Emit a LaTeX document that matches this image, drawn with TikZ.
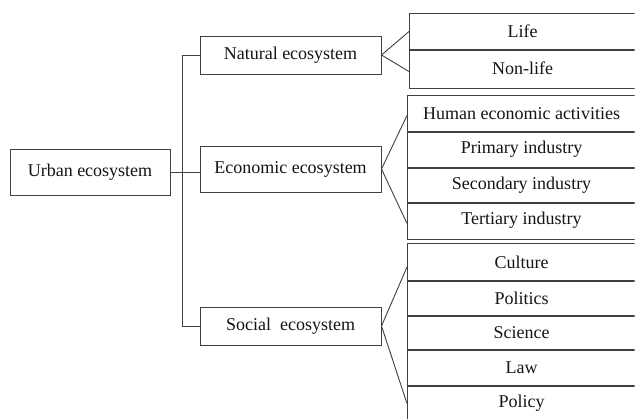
\documentclass[tikz,border=0pt]{standalone}
\usepackage{fontspec}
\setmainfont{Liberation Serif}
\begin{document}
\begin{tikzpicture}[x=1pt,y=-1pt, line width=1pt,
  txt/.style={font=\fontsize{18}{21}\selectfont, text=black!92},
  mainbox/.style={txt, draw=black!75, inner sep=0pt},
  rowbox/.style={txt, inner sep=0pt, anchor=north west, minimum width=229pt},
  rowframe/.style={draw=black!75, line width=1pt},
  link/.style={draw=black!75, line width=0.9pt}]
\useasboundingbox (0,0) rectangle (635,418);
\clip (0,0) rectangle (634.6,418);
% main boxes
\node[mainbox, minimum width=160pt, minimum height=46pt] (urban) at (90,172) {Urban ecosystem};
\node[mainbox, minimum width=181pt, minimum height=38pt] (natural) at (290.5,55) {Natural ecosystem};
\node[mainbox, minimum width=181pt, minimum height=46pt] (economic) at (290.5,169) {Economic ecosystem};
\node[mainbox, minimum width=181pt, minimum height=38pt] (social) at (290.5,326) {Social~ ecosystem};
% natural rows
\node[rowbox, minimum width=226pt, minimum height=36pt] (life) at (409,13) {Life};
\node[rowbox, minimum width=226pt, minimum height=38pt] (nonlife) at (409,49) {Non-life};
% economic rows
\node[rowbox, minimum width=228pt, minimum height=36pt] (human) at (407,95) {Human economic activities};
\node[rowbox, minimum width=228pt, minimum height=36pt] (primary) at (407,131) {Primary industry};
\node[rowbox, minimum width=228pt, minimum height=35pt] (secondary) at (407,167) {Secondary industry};
\node[rowbox, minimum width=228pt, minimum height=36pt] (tertiary) at (407,202) {Tertiary industry};
% social rows
\node[rowbox, minimum width=228pt, minimum height=37pt] (culture) at (407,243) {Culture};
\node[rowbox, minimum width=228pt, minimum height=35pt] (politics) at (407,280) {Politics};
\node[rowbox, minimum width=228pt, minimum height=34pt] (science) at (407,315) {Science};
\node[rowbox, minimum width=228pt, minimum height=36pt] (law) at (407,349) {Law};
\node[rowbox, minimum width=228pt, minimum height=36pt] (policy) at (407,385) {Policy};
% row frames (open to the right, running past the picture edge)
\foreach \r in {life,nonlife,human,primary,secondary,tertiary,culture,politics,science,law,policy}
  \draw[rowframe] ([xshift=30pt]\r.north east) -- (\r.north west) -- (\r.south west) -- ([xshift=30pt]\r.south east);
% trunk
\draw[link] (natural.west) -- ++(-17,0) coordinate (trunktop) |- (social.west);
\draw[link] (urban.east) -- (urban.east -| economic.west);
% fans
\draw[link] (life.west) -- (natural.east) -- ([yshift=-3pt]nonlife.west);
\draw[link] ([yshift=-2pt]human.west) -- (economic.east) -- ([yshift=-3pt]tertiary.west);
\draw[link] ([yshift=-5pt]culture.west) -- (social.east) -- (policy.west);
\end{tikzpicture}
\end{document}
